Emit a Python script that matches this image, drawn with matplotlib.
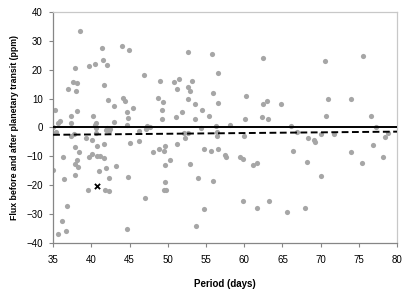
import numpy as np
import matplotlib
matplotlib.use("Agg")
import matplotlib.pyplot as plt

plt.rcParams['font.family'] = ['Liberation Sans', 'DejaVu Sans']

# Period (days) and flux (ppm)
period = [
    35.26, 35.9, 35.7, 38.5, 36.9, 37.6, 38.15, 37.8, 38.0, 37.3, 37.3, 38.15,
    39.7, 40.5, 41.4, 41.5, 42.05, 41.7, 42.2, 42.9, 40.2, 40.6, 40.5, 42.9,
    44.0, 44.9, 44.1, 44.4, 44.7, 44.75, 44.7, 45.4, 46.9, 47.3, 47.7, 49.0,
    48.7, 49.4, 49.2, 49.3, 35.0, 42.0, 41.9, 42.35, 42.5,
    35.0, 35.35, 37.3, 37.7, 36.3, 36.4, 36.8, 36.2, 36.7, 35.6, 37.9, 38.4,
    37.8, 38.1, 38.3, 37.85, 39.3, 40.1, 39.7, 40.1, 40.7, 41.1, 41.7, 40.8,
    41.7, 39.5, 41.0, 41.9, 42.3, 41.8, 42.35, 43.2, 40.6, 46.25, 47.2, 45.0,
    46.2, 48.1, 48.8, 44.75, 47.0, 44.6, 40.6,
    52.6, 55.8, 62.5, 56.6, 50.8, 51.4, 53.2, 51.2, 52.7, 52.9, 55.9, 52.6,
    53.6, 56.6, 51.8, 51.1, 54.5, 55.4, 53.5, 60.2, 62.5, 63.0, 64.8, 60.1,
    62.3, 63.1, 54.4, 56.3, 58.1,
    49.6, 49.5, 51.2, 52.2, 52.1, 52.7, 56.5, 56.5, 60.0, 49.6, 50.3, 52.9,
    54.7, 55.7, 56.6, 57.5, 57.6, 59.4, 59.8, 61.1, 61.7, 49.6, 49.5, 49.8,
    53.9, 55.9, 59.9, 61.7, 63.2, 65.6, 54.7, 53.7,
    70.5, 75.5, 70.9, 74.0, 70.7, 76.6, 66.1, 77.2, 66.85, 68.4, 69.1, 69.2,
    70.1, 71.7, 78.4, 78.8, 66.4, 68.2, 73.9, 76.9, 78.2, 75.4, 70.0, 68.0,
]
flux = [
    6.0, 2.1, 1.4, 33.5, 13.2, 15.7, 15.3, 20.5, 12.5, 3.9, 1.5, 5.6,
    21.3, 21.9, 27.4, 23.4, 21.8, 14.6, 9.5, 7.3, 3.9, 1.4, 0.9, 2.0,
    28.2, 26.8, 10.3, 9.2, 5.5, 3.2, 0.7, 6.8, 18.1, 0.4, 0.2, 16.1,
    10.1, 8.8, 6.0, 3.1, 0.1, -0.1, -0.9, -1.4, -0.7,
    -14.8, -1.6, -2.8, -2.1, -10.1, -18.0, -27.1, -32.5, -35.8, -37.0, -6.7, -8.5,
    -12.5, -11.2, -13.8, -16.5, -3.7, -4.5, -10.4, -9.2, -10.0, -9.9, -10.7, -6.3,
    -5.9, -21.6, -15.0, -14.2, -17.6, -21.8, -22.1, -13.3, -1.9, -1.3, -0.7, -5.3,
    -4.6, -8.5, -7.4, -17.2, -24.5, -35.1, -0.1,
    26.0, 25.3, 24.0, 19.0, 15.7, 16.9, 16.2, 13.3, 13.9, 12.8, 11.9, 9.8,
    8.2, 8.5, 5.2, 3.7, 6.0, 3.9, 3.1, 11.0, 8.2, 9.0, 8.0, 3.0,
    3.5, 2.8, -0.2, 0.5, 0.9,
    -6.5, -8.3, -5.6, -3.8, -1.9, -1.9, -1.6, -3.0, -3.0, -12.9, -11.4, -12.5,
    -7.4, -8.1, -7.4, -9.6, -10.4, -10.2, -11.1, -12.9, -12.3, -19.0, -21.7, -21.7,
    -17.4, -18.4, -25.6, -27.8, -25.4, -29.3, -28.2, -34.2,
    23.1, 24.6, 10.0, 9.7, 3.9, 3.9, 0.5, 0.1, -1.6, -3.6, -4.2, -4.9,
    -2.2, -2.4, -3.2, -1.9, -8.2, -11.9, -8.5, -6.1, -10.3, -12.4, -16.9, -27.8,
]

# highlighted planet
mark_period = [40.8]
mark_flux = [-20.2]

# zero line and fitted trend (endpoints)
line_x = [35, 80]
zero_y = [0, 0]
trend_y = [-2.55, -1.45]

xticks = list(range(35, 81, 5))
yticks = list(range(-40, 41, 10))

fig = plt.figure(figsize=(4.15, 2.93), dpi=100)
ax = fig.add_axes([0.128, 0.171, 0.829, 0.788])

ax.scatter(period, flux, s=14, color='#A6A6A6', linewidths=0, zorder=2)
ax.plot(line_x, zero_y, color='black', lw=1.4, zorder=3)
ax.plot(line_x, trend_y, color='black', lw=1.4, ls=(0, (3.5, 1.8)), zorder=3)
ax.scatter(mark_period, mark_flux, marker='x', s=14, color='black', linewidths=1.3, zorder=4)

ax.set_xlim(35, 80)
ax.set_ylim(-40, 40)
ax.set_xticks(xticks)
ax.set_yticks(yticks)
ax.tick_params(labelsize=7, length=3, width=0.8, color='#868686')
ax.tick_params(axis='x', pad=6)
ax.tick_params(axis='y', pad=4.5)

for side in ['left', 'bottom']:
    ax.spines[side].set_color('#868686')
    ax.spines[side].set_linewidth(0.9)
for side in ['top', 'right']:
    ax.spines[side].set_color('#C8C8C8')
    ax.spines[side].set_linewidth(0.9)

ax.set_xlabel('Period (days)', fontsize=7, fontweight='bold', labelpad=10)
ax.set_ylabel('Flux before and after planetary transit (ppm)', fontsize=6.3,
              fontweight='bold', labelpad=5)

fig.savefig('out.png', dpi=100)
